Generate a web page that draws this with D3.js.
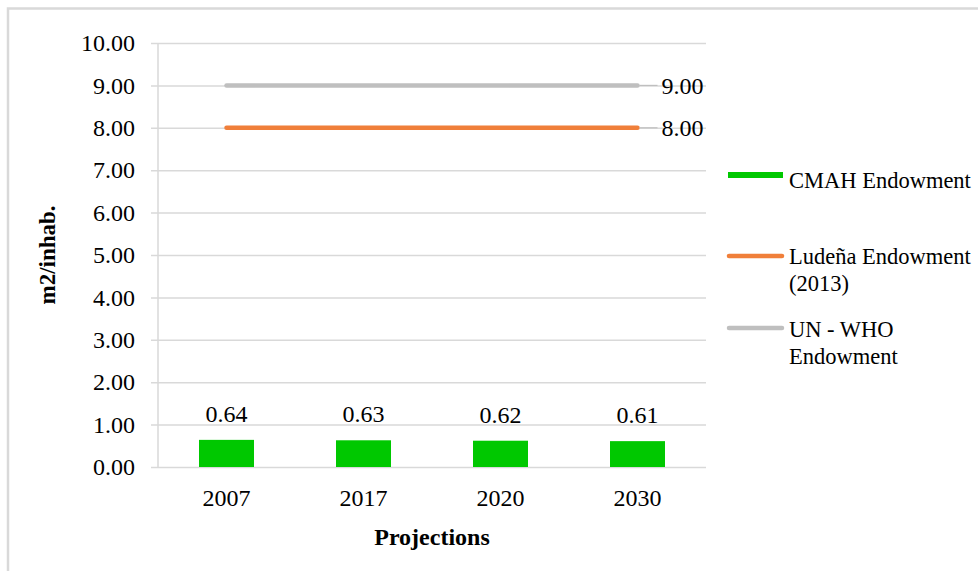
<!DOCTYPE html>
<html>
<head>
<meta charset="utf-8">
<script src="https://cdn.jsdelivr.net/npm/d3@7"></script>
<style>
  html, body { margin: 0; padding: 0; background: #fff; }
  svg { display: block; font-family: "Liberation Serif", "Times New Roman", serif; }
</style>
</head>
<body>
<svg id="chart" width="978" height="571"></svg>
<script>
// Green space endowment per inhabitant (m2/inhab.) by projection year
const years = ["2007", "2017", "2020", "2030"];
const cmahValues = [0.64, 0.63, 0.62, 0.61];
const ludenaValues = [8, 8, 8, 8];
const unWhoValues = [9, 9, 9, 9];
const yTicks = [0, 1, 2, 3, 4, 5, 6, 7, 8, 9, 10];
const seriesNames = {
  cmah: "CMAH Endowment",
  ludena: ["Ludeña Endowment", "(2013)"],
  unWho: ["UN - WHO", "Endowment"]
};
const colors = { cmah: "#00c800", ludena: "#f07f3a", unWho: "#bfbfbf", grid: "#d9d9d9" };
const serif = "Liberation Serif, Times New Roman, serif";

const svg = d3.select("#chart");
const margin = { left: 158, top: 43, right: 272, bottom: 104 };
const W = 978, H = 571;
const plotW = W - margin.left - margin.right;
const plotH = H - margin.top - margin.bottom;

// outer frame (top and left edges visible)
svg.append("path")
  .attr("d", `M8,${H + 2} V8.5 H${W + 2}`)
  .attr("fill", "none").attr("stroke", "#d9d9d9").attr("stroke-width", 2.5);

const g = svg.append("g").attr("transform", `translate(${margin.left},${margin.top})`);

const x = d3.scaleBand().domain(years).range([0, plotW]).paddingInner(0.4).paddingOuter(0.2);
const y = d3.scaleLinear().domain([0, 10]).range([plotH, 0]);
const xc = d => x(d) + x.bandwidth() / 2;

// y axis with gridlines
const yAxis = g.append("g")
  .call(d3.axisLeft(y).tickValues(yTicks).tickFormat(d3.format(".2f")).tickSize(7).tickPadding(16));
yAxis.select(".domain").remove();
yAxis.selectAll(".tick line")
  .attr("x1", -7).attr("x2", plotW)
  .attr("stroke", colors.grid).attr("stroke-width", 1.5);
yAxis.selectAll(".tick text")
  .attr("fill", "#000").attr("font-size", 24).attr("font-family", serif);

g.append("line")
  .attr("x1", 0).attr("x2", 0).attr("y1", 0).attr("y2", plotH)
  .attr("stroke", colors.grid).attr("stroke-width", 1.5);

// x axis labels
const xAxis = g.append("g").attr("transform", `translate(0,${plotH})`)
  .call(d3.axisBottom(x).tickSize(0).tickPadding(22));
xAxis.select(".domain").remove();
xAxis.selectAll(".tick text")
  .attr("fill", "#000").attr("font-size", 24).attr("font-family", serif);

// bars
g.selectAll("rect.bar").data(cmahValues).join("rect")
  .attr("class", "bar")
  .attr("x", (d, i) => xc(years[i]) - 27.5)
  .attr("width", 55)
  .attr("y", d => y(d))
  .attr("height", d => y(0) - y(d))
  .attr("fill", colors.cmah);

g.selectAll("text.barlabel").data(cmahValues).join("text")
  .attr("class", "barlabel")
  .attr("x", (d, i) => xc(years[i]))
  .attr("y", d => y(d) - 18)
  .attr("text-anchor", "middle")
  .attr("font-size", 24)
  .text(d => d3.format(".2f")(d));

// reference lines
const line = d3.line().x((d, i) => xc(years[i])).y(d => y(d));
[[unWhoValues, colors.unWho], [ludenaValues, colors.ludena]].forEach(([vals, c]) => {
  g.append("path").datum(vals)
    .attr("d", line)
    .attr("fill", "none").attr("stroke", c)
    .attr("stroke-width", 4.5).attr("stroke-linecap", "round");
  const last = vals[vals.length - 1];
  const lx = xc(years[years.length - 1]);
  g.append("line")
    .attr("x1", lx + 2).attr("x2", lx + 20)
    .attr("y1", y(last)).attr("y2", y(last))
    .attr("stroke", "#bfbfbf").attr("stroke-width", 1.2);
  g.append("text")
    .attr("x", lx + 24).attr("y", y(last)).attr("dy", "0.35em")
    .attr("font-size", 24)
    .text(d3.format(".2f")(last));
});

// axis titles
svg.append("text")
  .attr("transform", `translate(55,${margin.top + plotH / 2}) rotate(-90)`)
  .attr("text-anchor", "middle").attr("font-weight", "bold").attr("font-size", 23)
  .text("m2/inhab.");
svg.append("text")
  .attr("x", margin.left + plotW / 2).attr("y", 545)
  .attr("text-anchor", "middle").attr("font-weight", "bold").attr("font-size", 24)
  .text("Projections");

// legend
const lg = svg.append("g").attr("font-size", 22.5);
lg.append("rect").attr("x", 728).attr("y", 172).attr("width", 55).attr("height", 6).attr("fill", colors.cmah);
lg.append("text").attr("x", 789).attr("y", 188).text(seriesNames.cmah);

lg.append("line").attr("x1", 729).attr("x2", 782).attr("y1", 256).attr("y2", 256)
  .attr("stroke", colors.ludena).attr("stroke-width", 4.5).attr("stroke-linecap", "round");
lg.append("text").attr("x", 789).attr("y", 264)
  .selectAll("tspan").data(seriesNames.ludena).join("tspan")
  .attr("x", 789).attr("dy", (d, i) => i ? 27 : 0).text(d => d);

lg.append("line").attr("x1", 729).attr("x2", 782).attr("y1", 328).attr("y2", 328)
  .attr("stroke", colors.unWho).attr("stroke-width", 4.5).attr("stroke-linecap", "round");
lg.append("text").attr("x", 789).attr("y", 337)
  .selectAll("tspan").data(seriesNames.unWho).join("tspan")
  .attr("x", 789).attr("dy", (d, i) => i ? 27 : 0).text(d => d);
</script>
</body>
</html>
